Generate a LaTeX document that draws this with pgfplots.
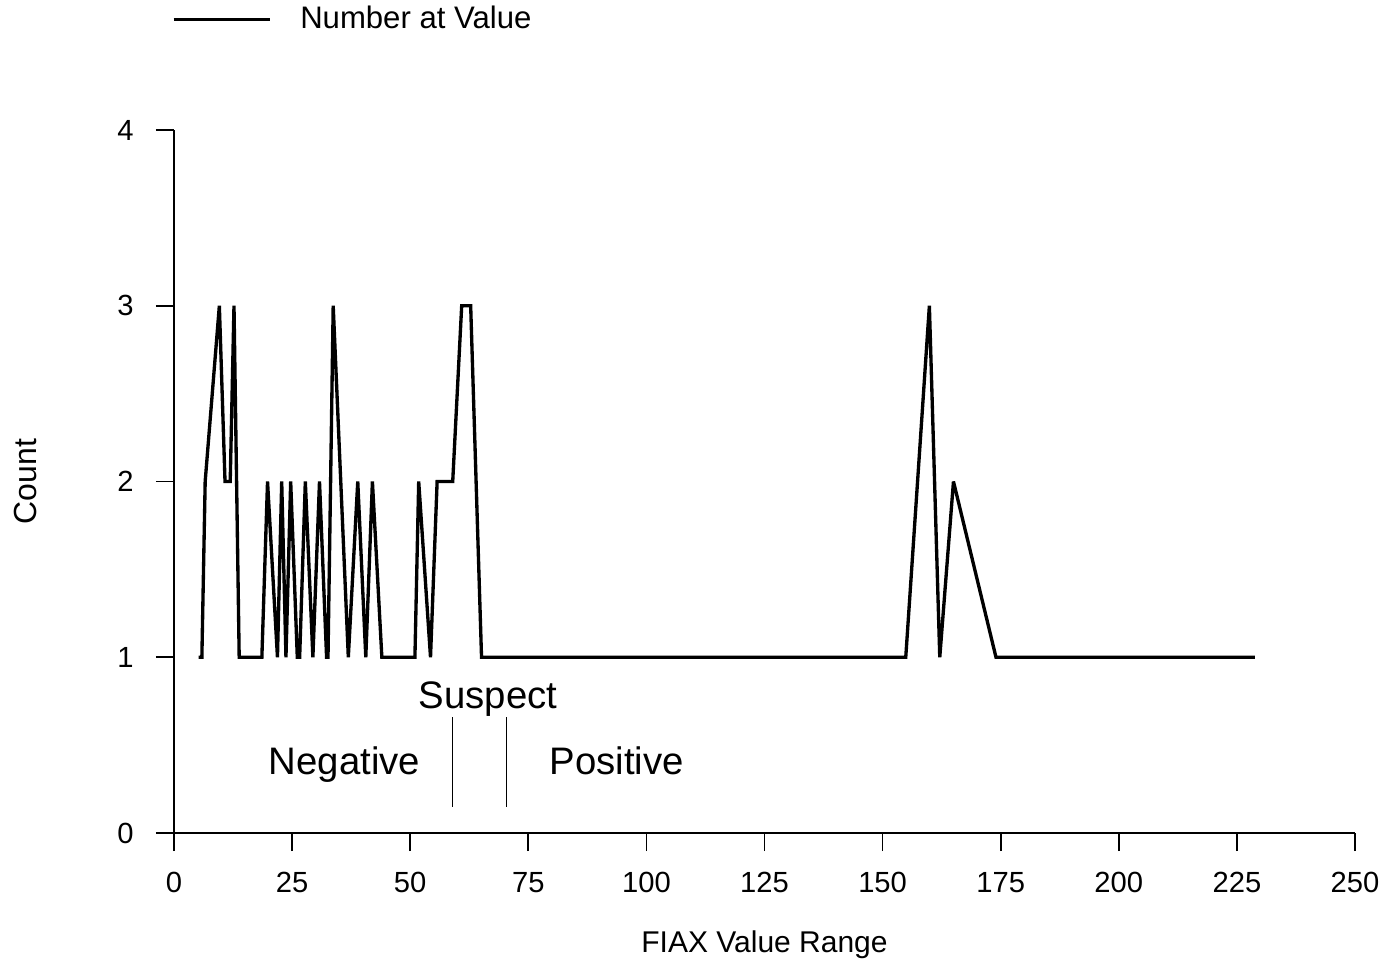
\documentclass[border=0pt]{standalone}
\usepackage{fontspec}
\setmainfont{Liberation Sans}
\usepackage{pgfplots}
\pgfplotsset{compat=1.18}

\begin{document}
\begin{tikzpicture}
% 1 px of the reference = 0.36pt; axis origin at px (174,833)
\useasboundingbox (-62.64pt,-47.88pt) rectangle (437.04pt,299.88pt);
\begin{axis}[
    at={(0,0)}, anchor=origin,
    scale only axis,
    width=425.16pt, height=253.08pt,
    xmin=0, xmax=250, ymin=0, ymax=4,
    axis x line*=bottom, axis y line*=left,
    axis line style={-, line width=0.7pt},
    xtick={0,25,...,250}, ytick={0,1,2,3,4},
    tick align=outside, major tick length=6.5pt,
    tick style={line width=0.6pt, black},
    /pgf/number format/assume math mode=true,
    ticklabel style={font=\fontsize{10.5}{12}\selectfont},
    xticklabel style={yshift=-4pt},
    yticklabel style={xshift=-4.5pt},
    xlabel={FIAX Value Range},
    ylabel={Count},
    xlabel style={at={(rel axis cs:0.5,0)}, anchor=center, yshift=-40.3pt,
        font=\fontsize{10.8}{12}\selectfont},
    ylabel style={at={(rel axis cs:0,0.5)}, anchor=center, yshift=53.6pt,
        font=\fontsize{11.5}{13}\selectfont},
    legend style={at={(rel axis cs:-0.002,1.157)}, anchor=west, draw=none,
        fill=none, inner sep=0pt, font=\fontsize{11.2}{13}\selectfont,
        column sep=8.5pt},
    legend image code/.code={\draw[#1, line width=1.1pt] (0pt,0pt) -- (34.5pt,0pt);},
    clip=false,
]
\addplot[black, line width=1.2pt, line join=miter, miter limit=3] coordinates {
    (5.2,1) (5.9,1) (6.6,2) (9.6,3) (10.8,2) (11.9,2) (12.7,3) (13.8,1)
    (18.6,1) (19.8,2) (21.9,1) (22.8,2) (23.7,1) (24.7,2) (26.1,1) (26.6,1)
    (27.8,2) (29.4,1) (30.8,2) (32.3,1) (32.6,1) (33.7,3) (36.9,1) (38.9,2)
    (40.6,1) (42.0,2) (44.0,1) (51.0,1) (51.8,2) (54.3,1) (55.7,2) (59.0,2)
    (60.9,3) (62.8,3) (65.1,1) (154.9,1) (159.9,3) (162.1,1) (165.0,2)
    (174.0,1) (228.8,1)
};
\addlegendentry{Number at Value}
\draw[line width=0.5pt] (axis cs:59.0,0.15) -- (axis cs:59.0,0.66);
\draw[line width=0.5pt] (axis cs:70.4,0.15) -- (axis cs:70.4,0.66);
\node[anchor=base, font=\fontsize{13.8}{16}\selectfont] at (axis cs:66.5,0.709) {Suspect};
\node[anchor=base, font=\fontsize{13.8}{16}\selectfont] at (axis cs:36.1,0.335) {Negative};
\node[anchor=base, font=\fontsize{13.8}{16}\selectfont] at (axis cs:93.7,0.335) {Positive};
\end{axis}
\end{tikzpicture}
\end{document}
